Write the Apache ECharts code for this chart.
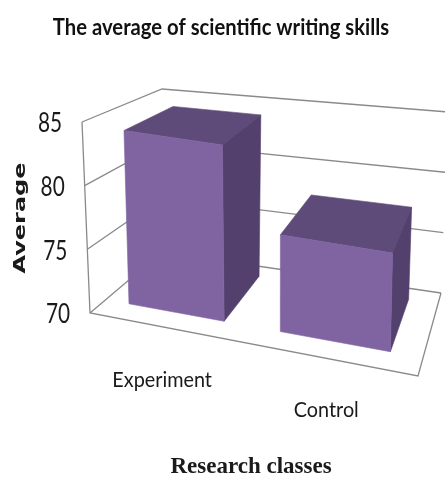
<!DOCTYPE html>
<html>
<head>
<meta charset="utf-8">
<style>
  html, body { margin: 0; padding: 0; background: #fff; }
  #main { width: 445px; height: 482px; filter: blur(0.5px); }
</style>
</head>
<body>
<div id="main"></div>
<script src="https://cdn.jsdelivr.net/npm/echarts@6/dist/echarts.min.js"></script>
<script>
var categories = ['Experiment', 'Control']
var averages = [84, 77.6]
var yTicks = [70, 75, 80, 85]

// corners of the 3d box on the page, [front/back][bottom/top][left/right]
var corners = {
  fl0: [90, 313], fr0: [418, 376], bl0: [162, 252], br0: [441, 293],
  fl1: [82, 122], fr1: [423, 176], bl1: [162, 89], br1: [448, 112]
}
// the picture is not a true projection, bars sit a bit off their band
var uStops = [[0, 0], [0.1, 0.073], [0.4, 0.373], [0.6, 0.55], [0.9, 0.897], [1, 1]]
var depthFront = 0.22
var depthBack = 0.87
var barFill = 0.6

function lerp (a, b, t) {
  return [a[0] + (b[0] - a[0]) * t, a[1] + (b[1] - a[1]) * t]
}
function warp (u) {
  for (var i = 1; i < uStops.length; i++) {
    if (u <= uStops[i][0]) {
      var a = uStops[i - 1]
      var b = uStops[i]
      return a[1] + (b[1] - a[1]) * (u - a[0]) / (b[0] - a[0])
    }
  }
  return u
}
// u along the categories, d into the page, v up the value axis, all 0..1
function project (u, d, v) {
  var c = corners
  var bottom = lerp(lerp(c.fl0, c.fr0, u), lerp(c.bl0, c.br0, u), d)
  var top = lerp(lerp(c.fl1, c.fr1, u), lerp(c.bl1, c.br1, u), d)
  return lerp(bottom, top, v)
}
function line (points) {
  return {
    type: 'polyline',
    shape: { points: points },
    style: { stroke: '#8a8a8a', lineWidth: 1.3, fill: null }
  }
}
function face (points, color) {
  return {
    type: 'polygon',
    shape: { points: points },
    style: { fill: color, stroke: color, lineWidth: 0.6 }
  }
}
function label (text, pos, font, fill, scaleX) {
  return {
    type: 'text',
    x: pos[0],
    y: pos[1],
    scaleX: scaleX || 1,
    style: { text: text, font: font, fill: fill || '#222', align: 'center', verticalAlign: 'middle' }
  }
}

function renderGrid (params, api) {
  var cs = params.coordSys
  var v = (cs.y + cs.height - api.coord([0, api.value(1)])[1]) / cs.height
  var children = [
    line([project(0, 0, v), project(0, 1, v), project(1, 1, v)])
  ]
  var p = project(0, 0, v)
  children.push(label(String(api.value(1)), [p[0] - 32, p[1] + 2], '26px Lato', '#1a1a1a', 0.8))
  if (params.dataIndex === 0) {
    children.push(line([project(0, 0, 1), project(0, 0, 0), project(1, 0, 0), project(1, 1, 0)]))
  }
  return { type: 'group', children: children }
}

function renderBar (params, api) {
  var cs = params.coordSys
  var c = api.coord([api.value(0), api.value(1)])
  var half = api.size([1, 0])[0] * barFill / 2
  var u0 = warp((c[0] - half - cs.x) / cs.width)
  var u1 = warp((c[0] + half - cs.x) / cs.width)
  var v = (cs.y + cs.height - c[1]) / cs.height
  var d0 = depthFront
  var d1 = depthBack
  var uMid = warp((c[0] - cs.x) / cs.width)
  var foot = project(uMid, 0, 0)
  return {
    type: 'group',
    children: [
      face([project(u0, d0, v), project(u1, d0, v), project(u1, d1, v), project(u0, d1, v)], '#5f4b79'),
      face([project(u1, d0, 0), project(u1, d1, 0), project(u1, d1, v), project(u1, d0, v)], '#53406d'),
      face([project(u0, d0, 0), project(u1, d0, 0), project(u1, d0, v), project(u0, d0, v)], '#8064a2'),
      label(categories[params.dataIndex], [foot[0] - 1, foot[1] + 51 + (1 - params.dataIndex) * 2], '22px Lato', '#1a1a1a', 0.9)
    ]
  }
}

var myChart = echarts.init(document.getElementById('main'))
myChart.setOption({
  animation: false,
  grid: { left: 0, right: 0, top: 0, bottom: 0 },
  xAxis: { type: 'category', data: categories, show: false },
  yAxis: { type: 'value', min: 70, max: 85, interval: 5, show: false },
  graphic: [
    {
      type: 'text',
      x: 221,
      y: 28,
      scaleX: 0.92,
      style: { text: 'The average of scientific writing skills', font: 'bold 22px Lato', fill: '#111', align: 'center', verticalAlign: 'middle' }
    },
    {
      type: 'text',
      x: 21,
      y: 218,
      rotation: Math.PI / 2,
      scaleX: 1.6,
      style: { text: 'Average', font: 'bold 15px "DejaVu Sans"', fill: '#1a1a1a', align: 'center', verticalAlign: 'middle' }
    },
    {
      type: 'text',
      x: 251,
      y: 467,
      style: { text: 'Research classes', font: 'bold 23px "Liberation Serif"', fill: '#1a1a1a', align: 'center', verticalAlign: 'middle' }
    }
  ],
  series: [
    {
      type: 'custom',
      renderItem: renderGrid,
      clip: false,
      silent: true,
      data: yTicks.map(function (t) { return [0, t] })
    },
    {
      type: 'custom',
      renderItem: renderBar,
      clip: false,
      silent: true,
      data: averages.map(function (a, i) { return [i, a] })
    }
  ]
})
</script>
</body>
</html>
